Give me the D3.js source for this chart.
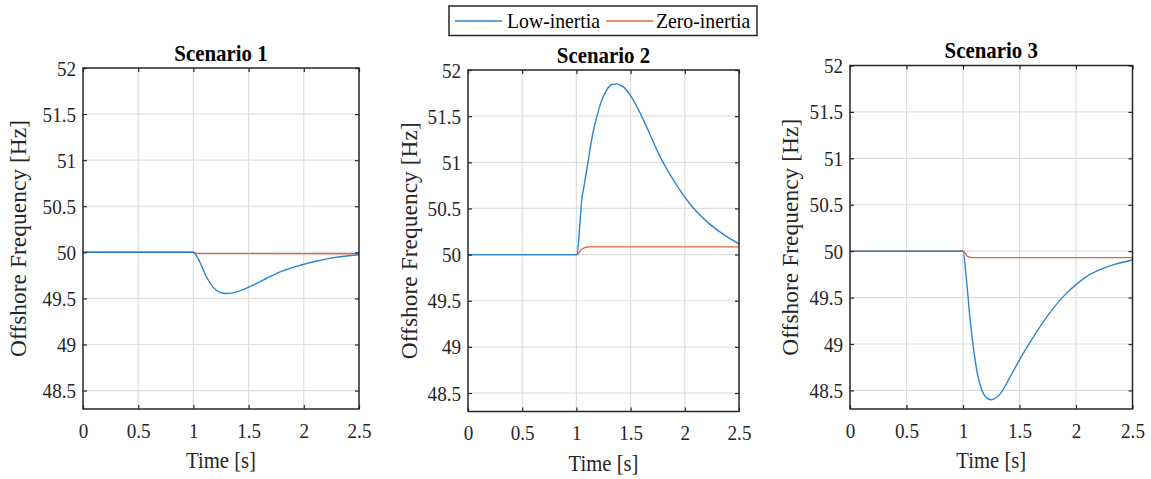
<!DOCTYPE html>
<html>
<head>
<meta charset="utf-8">
<script src="https://cdn.jsdelivr.net/npm/d3@7"></script>
<style>
  body { margin: 0; background: #fff; }
  svg { display: block; }
</style>
</head>
<body>
<svg width="1151" height="479" font-family="'Liberation Serif', 'Times New Roman', serif"></svg>
<script>
// tick labels and names
const timeTicks = [0, 0.5, 1, 1.5, 2, 2.5];
const freqTicks = [48.5, 49, 49.5, 50, 50.5, 51, 51.5, 52];
const seriesNames = ['Low-inertia', 'Zero-inertia'];
const titles = ['Scenario 1', 'Scenario 2', 'Scenario 3'];

// series: [time s, frequency Hz]
const s1Low = [[0, 50], [1, 50], [1.03, 49.96], [1.06, 49.89], [1.12, 49.73], [1.18, 49.62], [1.24, 49.566],
  [1.3, 49.553], [1.42, 49.582], [1.54, 49.644], [1.66, 49.716], [1.81, 49.798], [1.97, 49.86],
  [2.12, 49.906], [2.27, 49.942], [2.5, 49.973]];
const s1Zero = [[0, 50], [1, 50], [1.03, 49.986], [2.5, 49.985]];

const s2Low = [[0, 50], [1.006, 50], [1.03, 50.3], [1.05, 50.6], [1.07, 50.74], [1.1, 50.95],
  [1.123, 51.12], [1.153, 51.32], [1.19, 51.5], [1.23, 51.66], [1.277, 51.78], [1.323, 51.84],
  [1.369, 51.85], [1.43, 51.82], [1.507, 51.71], [1.614, 51.47], [1.768, 51.07], [1.92, 50.76],
  [2.075, 50.51], [2.23, 50.33], [2.38, 50.2], [2.5, 50.117]];
const s2Zero = [[0, 50], [1.005, 50], [1.046, 50.055], [1.09, 50.08], [1.12, 50.084], [2.5, 50.084]];

const s3Low = [[0, 50], [1, 50], [1.03, 49.7], [1.06, 49.3], [1.09, 48.98], [1.126, 48.69], [1.165, 48.51],
  [1.21, 48.42], [1.25, 48.4], [1.327, 48.46], [1.415, 48.64], [1.5, 48.83], [1.61, 49.05],
  [1.7, 49.22], [1.79, 49.37], [1.91, 49.54], [2.0, 49.64], [2.11, 49.74], [2.23, 49.81],
  [2.35, 49.86], [2.5, 49.905]];
const s3Zero = [[0, 50], [1.002, 50], [1.04, 49.945], [1.09, 49.93], [2.5, 49.93]];

const lowSeries = [s1Low, s2Low, s3Low];
const zeroSeries = [s1Zero, s2Zero, s3Zero];

const colors = ['#2b86d0', '#e0693b'];
const freqRange = [48.3, 52];
const timeRange = [0, 2.5];
const serif = "'Liberation Serif', 'Times New Roman', serif";

// panel boxes (pixels)
const panels = [
  { left: 83, right: 359, top: 68, bottom: 409, labelGap: 57 },
  { left: 468, right: 739, top: 70, bottom: 411.5, labelGap: 51 },
  { left: 850, right: 1132.5, top: 65.5, bottom: 409, labelGap: 52 }
];

const svg = d3.select('svg');

panels.forEach((p, i) => {
  const w = p.right - p.left;
  const h = p.bottom - p.top;
  const x = d3.scaleLinear().domain(timeRange).range([0, w]);
  const y = d3.scaleLinear().domain(freqRange).range([h, 0]);

  const g = svg.append('g').attr('transform', `translate(${p.left},${p.top})`);

  // grid
  g.append('g').selectAll('line').data(timeTicks.slice(1, -1)).join('line')
    .attr('x1', d => x(d)).attr('x2', d => x(d)).attr('y1', 0).attr('y2', h)
    .attr('stroke', '#dedede').attr('stroke-width', 1.2);
  g.append('g').selectAll('line').data(freqTicks.filter(d => d < 52)).join('line')
    .attr('x1', 0).attr('x2', w).attr('y1', d => y(d)).attr('y2', d => y(d))
    .attr('stroke', '#dedede').attr('stroke-width', 1.2);

  // lines
  const line = d3.line().x(d => x(d[0])).y(d => y(d[1])).curve(d3.curveMonotoneX);
  g.append('path').datum(zeroSeries[i]).attr('d', line)
    .attr('fill', 'none').attr('stroke', colors[1]).attr('stroke-width', 1.4);
  g.append('path').datum(lowSeries[i]).attr('d', line)
    .attr('fill', 'none').attr('stroke', colors[0]).attr('stroke-width', 1.4);

  // axes, ticks inward on all sides
  const xAxis = g.append('g').attr('transform', `translate(0,${h})`)
    .call(d3.axisBottom(x).tickValues(timeTicks).tickSize(-4).tickPadding(13).tickFormat(d3.format('')));
  const yAxis = g.append('g')
    .call(d3.axisLeft(y).tickValues(freqTicks).tickSize(-4).tickPadding(8).tickFormat(d3.format('')));
  g.append('g').call(d3.axisTop(x).tickValues(timeTicks).tickSize(-4).tickFormat(''));
  g.append('g').attr('transform', `translate(${w},0)`)
    .call(d3.axisRight(y).tickValues(freqTicks).tickSize(-4).tickFormat(''));

  g.selectAll('.domain').remove();
  g.selectAll('.tick line').attr('stroke', '#262626').attr('stroke-width', 1.2);
  [xAxis, yAxis].forEach(a => {
    a.attr('font-family', serif).attr('font-size', 22);
    a.selectAll('text').attr('font-family', serif).attr('font-size', 22)
      .attr('fill', '#262626').attr('transform', 'scale(0.87,1)');
  });

  g.append('rect').attr('width', w).attr('height', h)
    .attr('fill', 'none').attr('stroke', '#262626').attr('stroke-width', 1.5);

  // title
  g.append('g').attr('transform', `translate(${w / 2},-7.5)`)
    .append('text').attr('text-anchor', 'middle').attr('font-size', 24).attr('font-weight', 'bold')
    .attr('fill', '#000').attr('transform', 'scale(0.87,1)').text(titles[i]);

  // axis labels
  g.append('g').attr('transform', `translate(${w / 2},${h + 59})`)
    .append('text').attr('text-anchor', 'middle').attr('font-size', 23).attr('fill', '#262626')
    .attr('transform', 'scale(0.9,1)').text('Time [s]');
  g.append('text').attr('transform', `translate(${-p.labelGap},${h / 2}) rotate(-90)`)
    .attr('text-anchor', 'middle').attr('font-size', 23.5).attr('fill', '#262626')
    .text('Offshore Frequency [Hz]');
});

// legend
const legend = svg.append('g').attr('transform', 'translate(449,6)');
legend.append('rect').attr('width', 308).attr('height', 29.5)
  .attr('fill', '#fff').attr('stroke', '#262626').attr('stroke-width', 1.5);
const legendX = [[6, 53, 58], [157, 204, 207]];
seriesNames.forEach((name, k) => {
  legend.append('line').attr('x1', legendX[k][0]).attr('x2', legendX[k][1]).attr('y1', 15).attr('y2', 15)
    .attr('stroke', colors[k]).attr('stroke-width', 1.4);
  legend.append('g').attr('transform', `translate(${legendX[k][2]},22)`)
    .append('text').attr('font-size', 21).attr('fill', '#000')
    .attr('transform', 'scale(0.94,1)').text(name);
});
</script>
</body>
</html>
